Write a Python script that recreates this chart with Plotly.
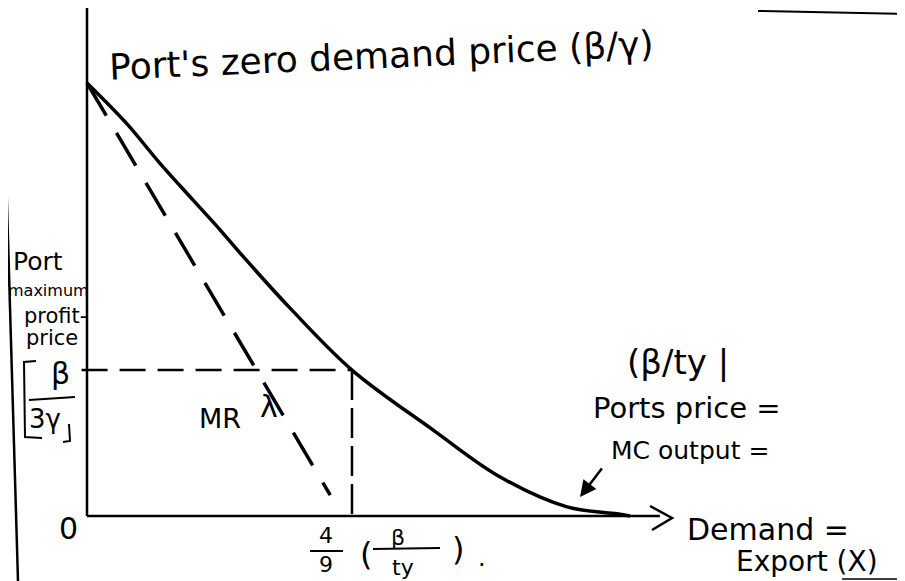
import plotly.graph_objects as go

W, H = 905, 581
OFF = 8  # page body margin of the browser
FW, FH = W - OFF, H - OFF

# demand curve (quantity as share of beta/(t*gamma), price as share of beta/gamma)
demand_q = [0, 0.074, 0.134, 0.195, 0.245, 0.287, 0.374, 0.488, 0.637, 0.761, 0.884, 0.976, 1.0]
demand_p = [1.0, 0.905, 0.815, 0.730, 0.661, 0.600, 0.480, 0.337, 0.199, 0.090, 0.021, 0.005, 0.0]
# marginal revenue line
mr_q = [0, 0.448]
mr_p = [1.0, 0.048]
# profit maximising point
q_star = 0.488
p_star = 0.337

FONT = "DejaVu Sans"


def px(x):
    return (x - OFF) / FW


def py(y):
    return 1 - (y - OFF) / FH


fig = go.Figure()
fig.add_trace(go.Scatter(x=demand_q, y=demand_p, mode="lines",
                         line=dict(color="black", width=3.5, shape="spline", smoothing=1)))
fig.add_trace(go.Scatter(x=mr_q, y=mr_p, mode="lines",
                         line=dict(color="black", width=3.5, dash="38px,20px")))
fig.add_trace(go.Scatter(x=[-0.01, q_star], y=[p_star, p_star], mode="lines",
                         line=dict(color="black", width=2.5, dash="26px,12px")))
fig.add_trace(go.Scatter(x=[q_star, q_star], y=[p_star, 0], mode="lines",
                         line=dict(color="black", width=2.5, dash="30px,8px")))

pl = dict(color="black", width=2)
shapes = [
    # axes
    dict(type="line", xref="x", yref="y", x0=0, y0=0, x1=0, y1=1.3,
         line=dict(color="black", width=2.5)),
    dict(type="line", xref="x", yref="y", x0=0, y0=0, x1=1.055, y1=0,
         line=dict(color="black", width=2.5)),
    # x-axis chevron
    dict(type="path", xref="paper", yref="paper",
         path="M %f,%f L %f,%f L %f,%f" % (px(650), py(506), px(672), py(518), px(652), py(530)),
         line=dict(color="black", width=2.5)),
    # page edges
    dict(type="line", xref="paper", yref="paper", x0=px(1), y0=py(0), x1=px(18), y1=py(581),
         line=dict(color="black", width=2.5)),
    dict(type="line", xref="paper", yref="paper", x0=px(758), y0=py(11), x1=px(905), y1=py(14),
         line=pl),
    dict(type="line", xref="paper", yref="paper", x0=px(842), y0=py(579), x1=px(905), y1=py(579),
         line=dict(color="black", width=1.5)),
    # brackets round beta/3gamma
    dict(type="path", xref="paper", yref="paper",
         path="M %f,%f L %f,%f L %f,%f L %f,%f" % (px(36), py(361), px(24), py(362),
                                                   px(25), py(437), px(42), py(438)),
         line=pl),
    dict(type="path", xref="paper", yref="paper",
         path="M %f,%f L %f,%f L %f,%f" % (px(69), py(424), px(70), py(441), px(63), py(442)),
         line=pl),
    # fraction bars
    dict(type="line", xref="paper", yref="paper", x0=px(29), y0=py(400), x1=px(75), y1=py(397),
         line=pl),
    dict(type="line", xref="paper", yref="paper", x0=px(310), y0=py(551), x1=px(343), y1=py(551),
         line=pl),
    dict(type="line", xref="paper", yref="paper", x0=px(373), y0=py(549), x1=px(440), y1=py(548),
         line=pl),
]

labels = [
    ("Port's zero demand price (β/γ)", 381, 56, 36, -2.5),
    ("Port", 38, 261, 25, 0),
    ("maximum", 48, 290, 16, 0),
    ("profit-", 55, 316, 21, 0),
    ("price", 52, 338, 21, 0),
    ("β", 60, 373, 30, 0),
    ("3γ", 45, 419, 26, 0),
    ("MR", 220, 418, 27, 0),
    ("λ", 269, 406, 30, 0),
    ("(β/ty |", 678, 362, 34, 0),
    ("Ports price =", 687, 408, 29, 0),
    ("MC output =", 690, 450, 25, 0),
    ("0", 68, 528, 30, 0),
    ("4", 326, 535, 22, 0),
    ("9", 326, 564, 22, 0),
    ("(", 366, 554, 32, 0),
    ("β", 398, 537, 22, 0),
    ("ty", 403, 567, 22, 0),
    (")", 458, 549, 32, 0),
    (".", 482, 558, 24, 0),
    ("Demand =", 768, 529, 30, 0),
    ("Export (X)", 807, 561, 28, 0),
]

annotations = []
for text, x, y, size, angle in labels:
    annotations.append(dict(text=text, x=px(x), y=py(y), xref="paper", yref="paper",
                            xanchor="center", yanchor="middle",
                            showarrow=False, textangle=angle,
                            font=dict(family=FONT, size=size, color="black")))

# pointer arrow to the demand curve tail
annotations.append(dict(text="", x=px(580), y=py(497), xref="paper", yref="paper",
                        ax=23, ay=-30, axref="pixel", ayref="pixel",
                        showarrow=True, arrowhead=2, arrowsize=1.3, arrowwidth=2.5,
                        arrowcolor="black"))

fig.update_layout(
    width=FW, height=FH,
    margin=dict(l=0, r=0, t=0, b=0),
    paper_bgcolor="white", plot_bgcolor="white",
    showlegend=False,
    xaxis=dict(range=[(OFF - 87) / 543, (W - 87) / 543], visible=False, fixedrange=True),
    yaxis=dict(range=[(516 - H) / 433, (516 - OFF) / 433], visible=False, fixedrange=True),
    shapes=shapes,
    annotations=annotations,
)

fig.write_html("out.html")
